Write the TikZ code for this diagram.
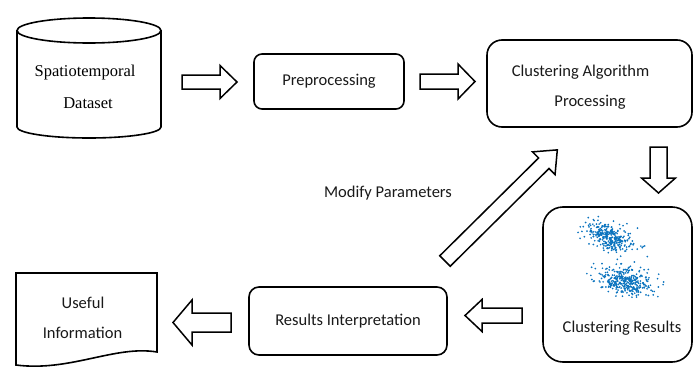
\documentclass[tikz,border=0pt]{standalone}
\usepackage{fontspec}
\setmainfont{Liberation Serif}
\newfontfamily\serifont{Liberation Serif}
\newfontfamily\calfont{Carlito}
\definecolor{dotblue}{RGB}{10,115,190}
\newcommand{\blockarrow}[7]{%
  \draw[arr, shift={(#1,#2)}, rotate=#3] (0,#5) -- ({#4-#7},#5) -- ({#4-#7},#6) -- (#4,0)
    -- ({#4-#7},-#6) -- ({#4-#7},-#5) -- (0,-#5) -- cycle;}
\begin{document}
\begin{tikzpicture}[x=1pt,y=-1pt,line join=miter,
  box/.style={draw, line width=1.6pt, rounded corners=#1, inner sep=0pt},
  lbl/.style={font=\calfont\fontsize{16.5}{20}\selectfont, text=black!90, inner sep=0pt},
  serif/.style={font=\serifont\fontsize{16.5}{20}\selectfont, text=black, inner sep=0pt},
  arr/.style={draw, line width=1.5pt, fill=white},
  outl/.style={draw, line width=1.6pt}]
\useasboundingbox (0,0) rectangle (694,367);

% Spatiotemporal dataset cylinder
\draw[outl] (17,30.5) -- (17,127) arc[start angle=180, end angle=360, x radius=72pt, y radius=11pt] -- (161,30.5);
\draw[outl] (89,30.5) ellipse [x radius=72pt, y radius=12.5pt];
\node[serif] (ds1) at (85,73) {Spatiotemporal};
\node[serif] (ds2) at (88,103) {Dataset};

% Preprocessing
\node[box=8pt, minimum width=150, minimum height=55, lbl] (pre) at (329,81.5) {Preprocessing};

% Clustering algorithm processing
\node[box=15pt, minimum width=205, minimum height=87] (ca) at (589.5,83.5) {};
\node[lbl] (ca1) at (580.5,72) {Clustering Algorithm};
\node[lbl] (ca2) at (590,102) {Processing};

% Clustering results
\node[box=20pt, minimum width=149, minimum height=155] (cr) at (617.5,284.5) {};
\node[lbl] (cr1) at (622,328) {Clustering Results};

% scatter clusters (Gaussian via Box-Muller)
\pgfmathsetseed{11}
\foreach \i in {1,...,330}{
  \pgfmathsetmacro\rr{sqrt(-2*ln(rnd*0.999+0.001))}
  \pgfmathsetmacro\tt{360*rnd}
  \pgfmathsetmacro\ga{\rr*cos(\tt)}
  \pgfmathsetmacro\gb{\rr*sin(\tt)}
  \fill[dotblue] ({610+11*\ga},{237+6.5*\gb+3*\ga}) circle (0.95pt);
}
\foreach \i in {1,...,360}{
  \pgfmathsetmacro\rr{sqrt(-2*ln(rnd*0.999+0.001))}
  \pgfmathsetmacro\tt{360*rnd}
  \pgfmathsetmacro\ga{\rr*cos(\tt)}
  \pgfmathsetmacro\gb{\rr*sin(\tt)}
  \fill[dotblue] ({626+13*\ga},{281+7*\gb+1.5*\ga}) circle (0.95pt);
}

% Results interpretation
\node[box=10pt, minimum width=198, minimum height=68, lbl] (ri) at (348,321) {Results Interpretation};

% Useful information document
\draw[outl] (16,273) -- (157,273) -- (157,352) .. controls (115,345) and (70,372) .. (16,365) -- cycle;
\node[lbl] (ui1) at (83,303) {Useful};
\node[lbl] (ui2) at (82.5,333) {Information};

% Modify parameters label
\node[lbl] (mp) at (388,193) {Modify Parameters};

% block arrows
\blockarrow{182}{82}{0}{55}{7}{16.5}{17}
\blockarrow{420}{81.5}{0}{55}{7.5}{17.5}{17}
\blockarrow{658.5}{147}{-90}{46}{8.5}{17}{15}
\blockarrow{522}{315.5}{180}{57}{7.5}{16}{17}
\blockarrow{231}{322.5}{180}{58}{9.5}{22.5}{19}
\blockarrow{445}{261}{44.7}{158}{7.4}{16}{19}
\end{tikzpicture}
\end{document}
